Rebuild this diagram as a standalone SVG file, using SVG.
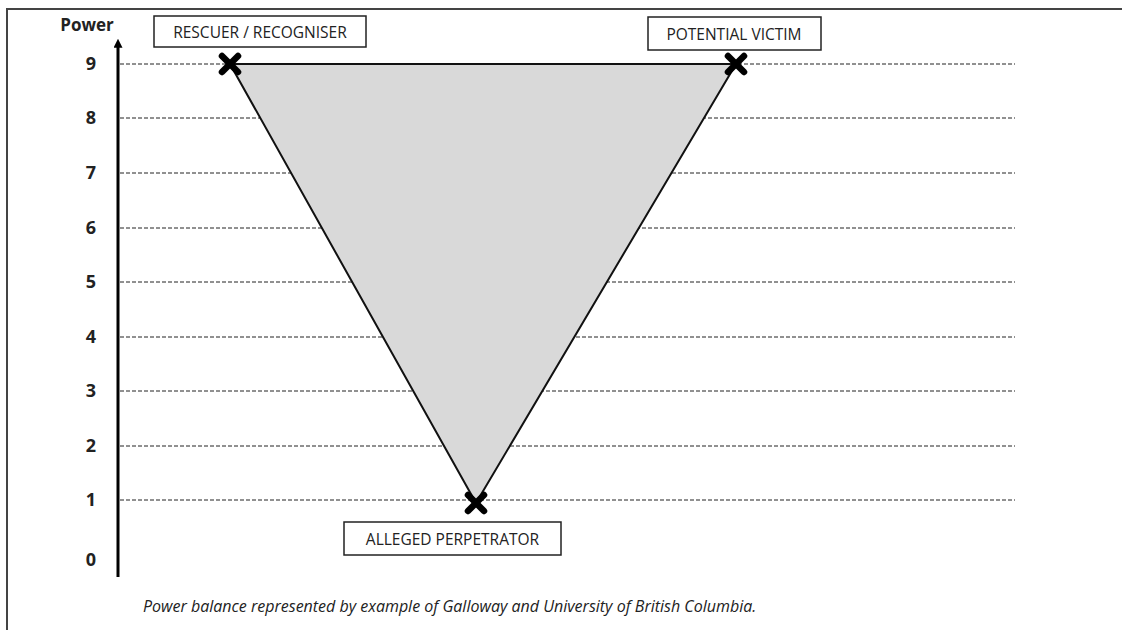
<svg xmlns="http://www.w3.org/2000/svg" width="1122" height="630" viewBox="0 0 1122 630">
  <style>
    .frame { stroke: #444; stroke-width: 2; fill: none; }
    .grid { stroke: #222; stroke-width: 1; stroke-dasharray: 4 2; fill: none; }
    .axis { stroke: #000; stroke-width: 3; fill: none; }
    .tick { font-family: "Open Sans", "Liberation Sans", sans-serif; font-size: 18px; font-weight: bold; fill: #222; text-anchor: middle; }
    .box { fill: #fff; stroke: #222; stroke-width: 1.5; }
    .lbl { font-family: "Open Sans", "Liberation Sans", sans-serif; font-size: 15.5px; fill: #222; text-anchor: middle; }
    .mark { stroke: #000; stroke-width: 6.5; stroke-linecap: round; }
    .caption { font-family: "Open Sans", "Liberation Sans", sans-serif; font-size: 16px; font-style: italic; fill: #222; }
  </style>
  <defs>
    <marker id="arrowUp" viewBox="0 0 10 10" refX="2" refY="5" markerWidth="3" markerHeight="3" orient="auto">
      <path d="M0,0 L10,5 L0,10 z" fill="#000"/>
    </marker>
    <g id="cross">
      <line class="mark" x1="-8" y1="-8" x2="8" y2="8"/>
      <line class="mark" x1="-8" y1="8" x2="8" y2="-8"/>
    </g>
  </defs>
  <rect width="1122" height="630" fill="#fff"/>

  <!-- page frame -->
  <path class="frame" d="M7,630 V9 H1122"/>

  <!-- power scale -->
  <g id="scale">
    <text x="87" y="31" class="tick" style="font-size:17px">Power</text>
    <line class="axis" x1="118" y1="577" x2="118" y2="46" marker-end="url(#arrowUp)"/>
    <g class="grid-lines">
      <line class="grid" x1="120" y1="64" x2="1015" y2="64"/>
      <line class="grid" x1="120" y1="118" x2="1015" y2="118"/>
      <line class="grid" x1="120" y1="173" x2="1015" y2="173"/>
      <line class="grid" x1="120" y1="228" x2="1015" y2="228"/>
      <line class="grid" x1="120" y1="282" x2="1015" y2="282"/>
      <line class="grid" x1="120" y1="337" x2="1015" y2="337"/>
      <line class="grid" x1="120" y1="391" x2="1015" y2="391"/>
      <line class="grid" x1="120" y1="446" x2="1015" y2="446"/>
      <line class="grid" x1="120" y1="500" x2="1015" y2="500"/>
    </g>
    <text class="tick" x="91" y="70">9</text>
    <text class="tick" x="91" y="124">8</text>
    <text class="tick" x="91" y="179">7</text>
    <text class="tick" x="91" y="234">6</text>
    <text class="tick" x="91" y="288">5</text>
    <text class="tick" x="91" y="343">4</text>
    <text class="tick" x="91" y="397">3</text>
    <text class="tick" x="91" y="452">2</text>
    <text class="tick" x="91" y="506">1</text>
    <text class="tick" x="91" y="566">0</text>
  </g>

  <!-- connectors: triangle edges between the three roles -->
  <g id="connectors">
    <polygon points="230,64 736,64 476,503" fill="#d9d9d9" stroke="#111" stroke-width="2" stroke-linejoin="round"/>
  </g>

  <g id="rescuer">
    <use href="#cross" x="230" y="64"/>
    <rect class="box" x="154" y="16" width="212" height="31"/>
    <text class="lbl" x="260" y="38">RESCUER / RECOGNISER</text>
  </g>

  <g id="victim">
    <use href="#cross" x="736" y="64"/>
    <rect class="box" x="648" y="17" width="173" height="33"/>
    <text class="lbl" x="734" y="40">POTENTIAL VICTIM</text>
  </g>

  <g id="perpetrator">
    <use href="#cross" x="476" y="503"/>
    <rect class="box" x="344" y="522" width="217" height="33"/>
    <text class="lbl" x="452.5" y="545">ALLEGED PERPETRATOR</text>
  </g>

  <text class="caption" x="143" y="612">Power balance represented by example of Galloway and University of British Columbia.</text>
</svg>
